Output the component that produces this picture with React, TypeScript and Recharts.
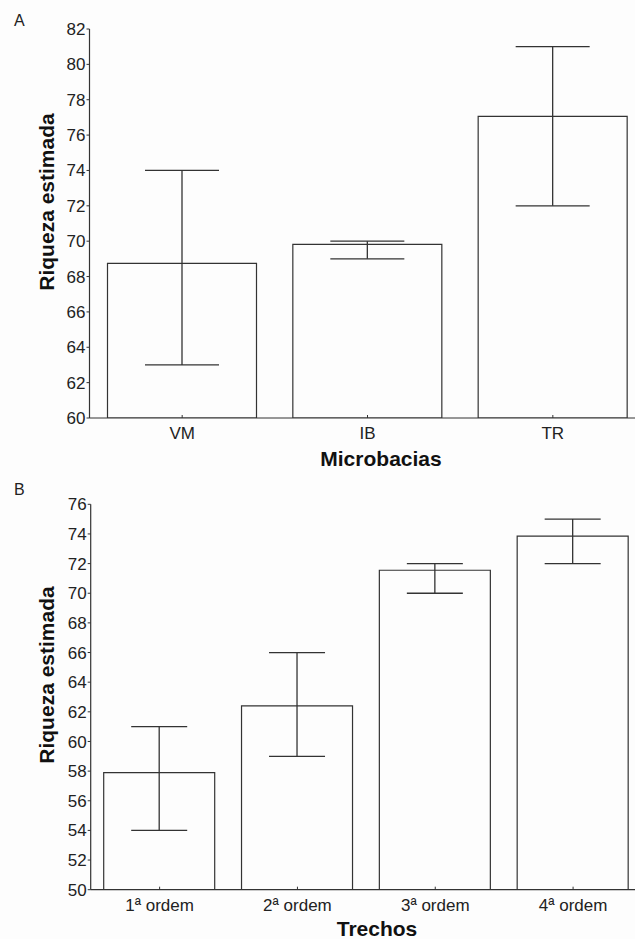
import { Bar, BarChart, ErrorBar, XAxis, YAxis } from "recharts";

// Painel A: microbacias
const basins = ["VM", "IB", "TR"];
const basinMean = [68.75, 69.82, 77.06];
const basinLow = [63, 69, 72];
const basinHigh = [74, 70, 81];
const basinTicks = [60, 62, 64, 66, 68, 70, 72, 74, 76, 78, 80, 82];

// Painel B: trechos
const reaches = ["1ª ordem", "2ª ordem", "3ª ordem", "4ª ordem"];
const reachMean = [57.9, 62.4, 71.55, 73.85];
const reachLow = [54, 59, 70, 72];
const reachHigh = [61, 66, 72, 75];
const reachTicks = [50, 52, 54, 56, 58, 60, 62, 64, 66, 68, 70, 72, 74, 76];

const FONT = '"Liberation Sans", Arial, Helvetica, sans-serif';
const INK = "#333333";
const PAPER = "#fdfdfd";

const toRows = (names: string[], mean: number[], low: number[], high: number[]) =>
  names.map((name, i) => ({
    name,
    value: mean[i],
    err: [mean[i] - low[i], high[i] - mean[i]]
  }));

const basinRows = toRows(basins, basinMean, basinLow, basinHigh);
const reachRows = toRows(reaches, reachMean, reachLow, reachHigh);

function BottomTick({ x, y, payload }: any) {
  return (
    <g>
      <line x1={x} y1={y} x2={x} y2={y - 3} stroke={INK} strokeWidth={1} />
      <text x={x} y={y + 21} textAnchor="middle" fontSize={17} fill="#222" fontFamily={FONT}>
        {payload.value}
      </text>
    </g>
  );
}

function TopTick({ x, y }: any) {
  return <line x1={x} y1={y} x2={x} y2={y + 3} stroke={INK} strokeWidth={1} />;
}

function Title({ x, y, text, rotate }: { x: number; y: number; text: string; rotate?: boolean }) {
  return (
    <text
      x={x}
      y={y}
      textAnchor="middle"
      dominantBaseline={rotate ? "central" : "auto"}
      transform={rotate ? `rotate(-90 ${x} ${y})` : undefined}
      fontSize={21}
      fontWeight="bold"
      fill="#111"
      fontFamily={FONT}
    >
      {text}
    </text>
  );
}

function Panel({
  rows,
  ticks,
  height,
  top,
  right,
  xHeight,
  yWidth,
  barSize,
  capHalf,
  xTitle,
  xTitlePos,
  yTitlePos
}: {
  rows: { name: string; value: number; err: number[] }[];
  ticks: number[];
  height: number;
  top: number;
  right: number;
  xHeight: number;
  yWidth: number;
  barSize: number;
  capHalf: number;
  xTitle: string;
  xTitlePos: [number, number];
  yTitlePos: [number, number];
}) {
  return (
    <BarChart width={650} height={height} data={rows} margin={{ top, right, bottom: 0, left: 0 }}>
      <XAxis
        dataKey="name"
        xAxisId="bottom"
        height={xHeight}
        axisLine={{ stroke: INK, strokeWidth: 1.2 }}
        tickLine={false}
        tickSize={0}
        tickMargin={0}
        tick={<BottomTick />}
        interval={0}
        label={() => <Title x={xTitlePos[0]} y={xTitlePos[1]} text={xTitle} />}
      />
      <XAxis
        dataKey="name"
        xAxisId="top"
        orientation="top"
        height={0}
        axisLine={{ stroke: INK, strokeWidth: 1.2 }}
        tickLine={false}
        tickSize={0}
        tickMargin={0}
        tick={<TopTick />}
        interval={0}
      />
      <YAxis
        type="number"
        domain={[ticks[0], ticks[ticks.length - 1]]}
        ticks={ticks}
        interval={0}
        width={yWidth}
        allowDataOverflow
        axisLine={{ stroke: INK, strokeWidth: 1.2 }}
        tickLine={{ stroke: INK }}
        tickSize={3}
        tickMargin={1}
        tick={{ fontSize: 17, fill: "#222", fontFamily: FONT }}
        label={() => <Title x={yTitlePos[0]} y={yTitlePos[1]} text="Riqueza estimada" rotate />}
      />
      <Bar
        dataKey="value"
        xAxisId="bottom"
        barSize={barSize}
        fill={PAPER}
        stroke={INK}
        strokeWidth={1.2}
        isAnimationActive={false}
      >
        <ErrorBar dataKey="err" direction="y" width={capHalf} stroke={INK} strokeWidth={1.3} />
      </Bar>
    </BarChart>
  );
}

export default function App() {
  return (
    <div
      style={{
        position: "absolute",
        left: 0,
        top: 0,
        width: 635,
        height: 939,
        overflow: "hidden",
        background: PAPER,
        fontFamily: FONT
      }}
    >
      <div style={{ position: "absolute", left: 14, top: 12, fontSize: 16, color: "#222" }}>A</div>
      <div style={{ position: "absolute", left: 14, top: 481, fontSize: 16, color: "#222" }}>B</div>

      <div style={{ position: "absolute", left: 0, top: 0 }}>
        <Panel
          rows={basinRows}
          ticks={basinTicks}
          height={470}
          top={29}
          right={4.5}
          xHeight={52}
          yWidth={89.5}
          barSize={149}
          capHalf={37}
          xTitle="Microbacias"
          xTitlePos={[381, 466]}
          yTitlePos={[46, 202]}
        />
      </div>

      <div style={{ position: "absolute", left: 0, top: 470 }}>
        <Panel
          rows={reachRows}
          ticks={reachTicks}
          height={469}
          top={34.3}
          right={8}
          xHeight={49.3}
          yWidth={90.7}
          barSize={111}
          capHalf={28}
          xTitle="Trechos"
          xTitlePos={[377, 466]}
          yTitlePos={[46, 205]}
        />
      </div>
    </div>
  );
}
